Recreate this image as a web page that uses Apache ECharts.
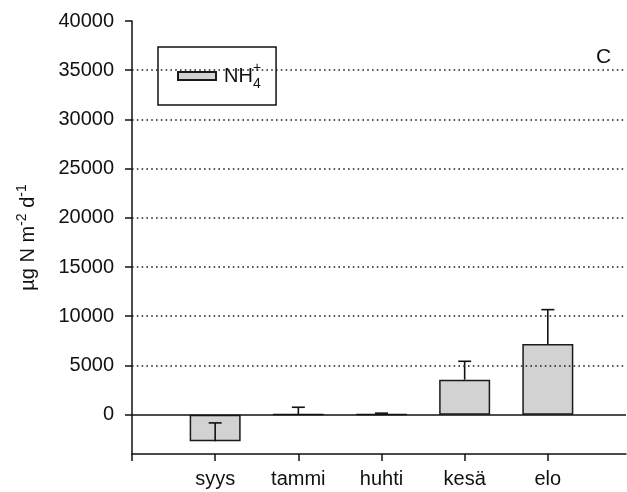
<!DOCTYPE html>
<html><head><meta charset="utf-8">
<script src="https://cdn.jsdelivr.net/npm/echarts@6/dist/echarts.min.js"></script>
<style>html,body{margin:0;padding:0;background:#fff}#c{width:627px;height:492px}</style>
</head><body><div id="c"></div>
<script>
const categories = ['syys', 'tammi', 'huhti', 'kesä', 'elo'];
const values = [-2710, 50, 50, 3550, 7180];
const errors = [1870, 700, 100, 1870, 3490];
const yTickValues = [0, 5000, 10000, 15000, 20000, 25000, 30000, 35000, 40000];
const gridValues = [5000, 10000, 15000, 20000, 25000, 30000, 35000];
const xTickValues = [0, 1, 2, 3, 4, 5];

const FONT = "'Liberation Sans', Arial, sans-serif";
const chart = echarts.init(document.getElementById('c'), null, {renderer: 'canvas'});
const barData = categories.map((c, i) => [i + 1, values[i]]);
const errData = categories.map((c, i) => [i + 1, values[i], errors[i]]);

chart.setOption({
  animation: false,
  backgroundColor: '#fff',
  grid: {left: 132, top: 21, right: 1, bottom: 38, containLabel: false},
  legend: {
    left: 158, top: 47,
    padding: [14, 15, 14, 19],
    borderColor: '#111', borderWidth: 1.5,
    backgroundColor: '#fff',
    itemWidth: 38, itemHeight: 8,
    icon: 'rect',
    selectedMode: false,
    data: ['NH4+'],
    formatter: () => '{n|NH}{sup|+}{sub|4}',
    textStyle: {
      fontFamily: FONT, color: '#111', fontSize: 20,
      rich: {
        n: {fontSize: 20, fontFamily: FONT, color: '#111', lineHeight: 30, verticalAlign: 'middle', padding: [0, 0, 0, 3]},
        sup: {fontSize: 14, fontFamily: FONT, color: '#111', width: 0, align: 'left', verticalAlign: 'top', lineHeight: 16},
        sub: {fontSize: 14, fontFamily: FONT, color: '#111', verticalAlign: 'bottom', lineHeight: 16}
      }
    }
  },
  xAxis: {
    type: 'value', min: 0, max: 5.94,
    axisLine: {show: true, onZero: false, lineStyle: {color: '#111', width: 1.5}},
    axisTick: {show: true, length: 7, customValues: xTickValues, lineStyle: {color: '#111', width: 1.5}},
    axisLabel: {
      customValues: [1, 2, 3, 4, 5],
      formatter: v => categories[Math.round(v) - 1] || '',
      fontSize: 20, fontFamily: FONT, color: '#111', margin: 15
    },
    splitLine: {show: false}
  },
  yAxis: {
    type: 'value', min: -4000, max: 40000,
    name: 'µg N m{sup|-2} d{sup|-1}',
    nameLocation: 'middle', nameGap: 90,
    nameTextStyle: {
      fontSize: 20, fontFamily: FONT, color: '#111',
      rich: {
        sup: {fontSize: 14, fontFamily: FONT, color: '#111', verticalAlign: 'top', lineHeight: 27}
      }
    },
    axisLine: {show: true, lineStyle: {color: '#111', width: 1.5}},
    axisTick: {show: true, length: 7, customValues: yTickValues, lineStyle: {color: '#111', width: 1.5}},
    axisLabel: {customValues: yTickValues, formatter: v => String(v), fontSize: 20, fontFamily: FONT, color: '#111', margin: 18},
    splitLine: {show: false}
  },
  graphic: [{
    type: 'text', left: 596, top: 47,
    style: {text: 'C', fontSize: 21, fontFamily: FONT, fill: '#111'}
  }],
  series: [
    {
      type: 'line', data: [], z: 1, silent: true,
      markLine: {
        silent: true, symbol: 'none', label: {show: false},
        data: gridValues.map(v => ({yAxis: v, lineStyle: {type: [1.6, 3.2], color: '#222', width: 1.6}}))
          .concat([{yAxis: 0, lineStyle: {type: 'solid', color: '#111', width: 1.5}}])
      }
    },
    {
      name: 'NH4+', type: 'bar', data: barData, barWidth: 51, z: 3,
      itemStyle: {color: '#d2d2d2', borderColor: '#1a1a1a', borderWidth: 1.5}
    },
    {
      type: 'custom', z: 4, data: errData,
      encode: {x: 0, y: 1},
      renderItem: (params, api) => {
        const x = api.value(0), v = api.value(1), e = api.value(2);
        const p0 = api.coord([x, v]);
        const p1 = api.coord([x, v + e]);
        const st = {stroke: '#111', lineWidth: 1.6};
        return {type: 'group', children: [
          {type: 'line', shape: {x1: p0[0], y1: p0[1], x2: p1[0], y2: p1[1]}, style: st},
          {type: 'line', shape: {x1: p1[0] - 6.5, y1: p1[1], x2: p1[0] + 6.5, y2: p1[1]}, style: st}
        ]};
      }
    }
  ]
});
</script></body></html>
